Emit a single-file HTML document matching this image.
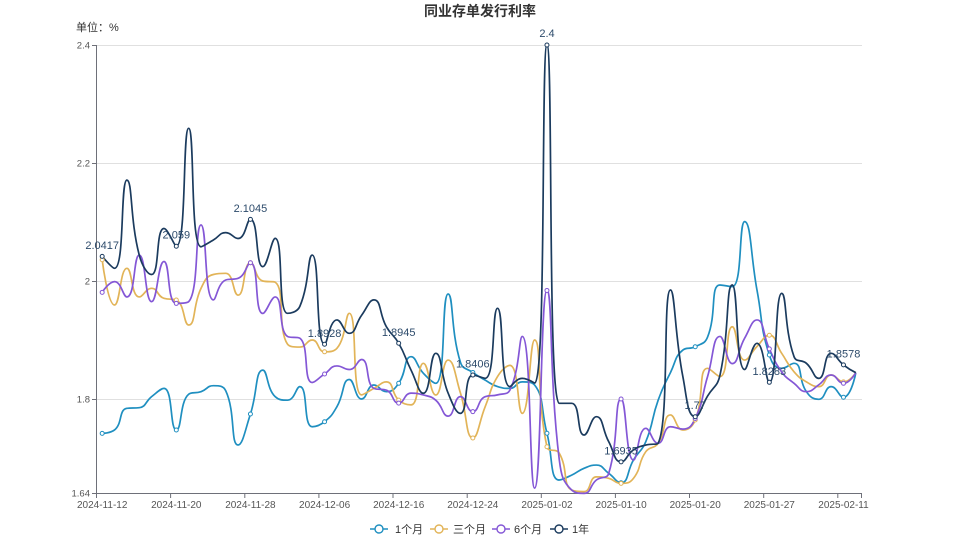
<!DOCTYPE html>
<html><head><meta charset="utf-8">
<style>
html,body{margin:0;padding:0;background:#fff;}
svg{display:block;font-family:"Liberation Sans","Noto Sans CJK SC",sans-serif;}
</style></head><body>
<svg id="c" xmlns="http://www.w3.org/2000/svg" width="959" height="539" viewBox="0 0 959 539">
<rect x="0" y="0" width="959" height="539" fill="#fff"/>
<text x="480" y="16" text-anchor="middle" font-size="14" font-weight="bold" fill="#333">同业存单发行利率</text>
<text x="76" y="31" font-size="11" fill="#333">单位：%</text>
<g stroke="#e0e0e0" stroke-width="1">
<line x1="96" x2="862" y1="45.5" y2="45.5"/>
<line x1="96" x2="862" y1="163.5" y2="163.5"/>
<line x1="96" x2="862" y1="281.5" y2="281.5"/>
<line x1="96" x2="862" y1="399.5" y2="399.5"/>
</g>
<g stroke="#6e7079" stroke-width="1">
<line x1="96.5" x2="96.5" y1="45" y2="493.5"/>
<line x1="96" x2="862" y1="493.5" y2="493.5"/>
<line x1="92" x2="96" y1="45.5" y2="45.5"/>
<line x1="92" x2="96" y1="163.5" y2="163.5"/>
<line x1="92" x2="96" y1="281.5" y2="281.5"/>
<line x1="92" x2="96" y1="399.5" y2="399.5"/>
<line x1="92" x2="96" y1="493.5" y2="493.5"/>
<line x1="96.5" x2="96.5" y1="493" y2="498"/>
<line x1="170.6" x2="170.6" y1="493" y2="498"/>
<line x1="244.8" x2="244.8" y1="493" y2="498"/>
<line x1="318.9" x2="318.9" y1="493" y2="498"/>
<line x1="393.0" x2="393.0" y1="493" y2="498"/>
<line x1="467.2" x2="467.2" y1="493" y2="498"/>
<line x1="541.3" x2="541.3" y1="493" y2="498"/>
<line x1="615.4" x2="615.4" y1="493" y2="498"/>
<line x1="689.5" x2="689.5" y1="493" y2="498"/>
<line x1="763.7" x2="763.7" y1="493" y2="498"/>
<line x1="837.8" x2="837.8" y1="493" y2="498"/>
<line x1="861.5" x2="861.5" y1="493" y2="498"/>
</g>
<g font-size="9.5" fill="#555" text-anchor="end">
<text x="90" y="48.5">2.4</text>
<text x="90" y="166.5">2.2</text>
<text x="90" y="284.5">2</text>
<text x="90" y="402.5">1.8</text>
<text x="90" y="496.5">1.64</text>
</g>
<g font-size="10" fill="#555" text-anchor="middle">
<text x="102.2" y="508">2024-11-12</text>
<text x="176.3" y="508">2024-11-20</text>
<text x="250.4" y="508">2024-11-28</text>
<text x="324.6" y="508">2024-12-06</text>
<text x="398.7" y="508">2024-12-16</text>
<text x="472.8" y="508">2024-12-24</text>
<text x="547.0" y="508">2025-01-02</text>
<text x="621.1" y="508">2025-01-10</text>
<text x="695.2" y="508">2025-01-20</text>
<text x="769.3" y="508">2025-01-27</text>
<text x="843.5" y="508">2025-02-11</text>
</g>
<g id="series"></g>
<g id="marks"></g>
<g font-size="11" fill="#2d4b6b" text-anchor="middle">
<text x="102.2" y="249">2.0417</text>
<text x="176.3" y="238.7">2.059</text>
<text x="250.4" y="211.8">2.1045</text>
<text x="324.6" y="336.8">1.8928</text>
<text x="398.7" y="335.8">1.8945</text>
<text x="472.8" y="367.5">1.8406</text>
<text x="547.0" y="37">2.4</text>
<text x="621.1" y="454.3">1.6935</text>
<text x="695.2" y="409.2">1.77</text>
<text x="769.3" y="374.8">1.8283</text>
<text x="843.5" y="357.4">1.8578</text>
</g>
<g font-size="11" fill="#333">
<line x1="370" x2="388" y1="529" y2="529" stroke="#1f8fc0" stroke-width="1.6"/>
<circle cx="379" cy="529" r="4" fill="#fff" stroke="#1f8fc0" stroke-width="1.4"/>
<text x="395" y="533">1个月</text>
<line x1="430" x2="448" y1="529" y2="529" stroke="#e2b458" stroke-width="1.6"/>
<circle cx="439" cy="529" r="4" fill="#fff" stroke="#e2b458" stroke-width="1.4"/>
<text x="453" y="533">三个月</text>
<line x1="492" x2="510" y1="529" y2="529" stroke="#8457d6" stroke-width="1.6"/>
<circle cx="501" cy="529" r="4" fill="#fff" stroke="#8457d6" stroke-width="1.4"/>
<text x="514" y="533">6个月</text>
<line x1="550" x2="568" y1="529" y2="529" stroke="#1b3b5e" stroke-width="1.6"/>
<circle cx="559" cy="529" r="4" fill="#fff" stroke="#1b3b5e" stroke-width="1.4"/>
<text x="572" y="533">1年</text>
</g>
</svg>
<script>
(function(){
var X0=96, BW=766/62;
function px(i){return X0+BW*(i+0.5);}
function py(v){return 45+(2.4-v)*590;}
var data={
m1:[1.7418,1.7475,1.7842,1.7853,1.804,1.818,1.7475,1.808,1.8124,1.8226,1.814,1.722,1.7746,1.849,1.804,1.798,1.821,1.753,1.7615,1.787,1.833,1.80,1.8237,1.8124,1.8266,1.8717,1.8435,1.8266,1.978,1.862,1.845,1.832,1.821,1.818,1.829,1.8237,1.742,1.6627,1.671,1.6825,1.688,1.674,1.658,1.6966,1.7277,1.798,1.845,1.883,1.8886,1.905,1.9932,1.9904,2.1006,1.9847,1.8746,1.852,1.8605,1.8124,1.7995,1.821,1.803,1.8446],
m3:[2.036,1.9593,2.0215,1.973,1.9876,1.9706,1.9678,1.9254,1.9876,2.011,2.013,1.976,2.031,2.0,1.998,1.893,1.888,1.9,1.88,1.886,1.9452,1.807,1.818,1.829,1.798,1.79,1.8605,1.8068,1.866,1.81,1.734,1.787,1.838,1.857,1.7757,1.9,1.719,1.708,1.6457,1.643,1.668,1.6655,1.657,1.6655,1.7107,1.725,1.773,1.7475,1.7644,1.852,1.838,1.9225,1.866,1.889,1.908,1.8774,1.846,1.829,1.821,1.8407,1.829,1.8446],
m6:[1.9808,1.9989,1.973,2.044,1.965,2.033,1.962,1.965,2.095,1.968,2.0017,2.0045,2.031,1.945,1.973,1.906,1.903,1.828,1.8424,1.856,1.85,1.867,1.818,1.815,1.793,1.81,1.8068,1.798,1.771,1.804,1.7785,1.804,1.807,1.815,1.906,1.649,1.984,1.6966,1.6457,1.64,1.6627,1.674,1.8,1.6966,1.7503,1.725,1.753,1.749,1.767,1.838,1.906,1.86,1.903,1.934,1.885,1.846,1.8266,1.8124,1.824,1.8407,1.8266,1.8446],
y1:[2.0417,2.0215,2.171,2.044,2.011,2.089,2.059,2.2588,2.058,2.0695,2.082,2.072,2.1045,2.0243,2.0723,1.9452,1.957,2.044,1.8928,1.934,1.9113,1.942,1.968,1.9226,1.8945,1.849,1.8097,1.8774,1.81,1.7757,1.8406,1.835,1.9537,1.821,1.835,1.827,2.4,1.7927,1.7927,1.739,1.77,1.7277,1.6935,1.7136,1.722,1.725,1.9847,1.838,1.77,1.805,1.84,1.9932,1.85,1.8944,1.8283,1.979,1.8717,1.8605,1.835,1.8774,1.8578,1.8446]
};
var colors={m1:"#1f8fc0",m3:"#e2b458",m6:"#8457d6",y1:"#1b3b5e"};
function smoothPath(pts,smooth){
  var d='M'+pts[0][0].toFixed(2)+' '+pts[0][1].toFixed(2);
  var cpx0=pts[0][0],cpy0=pts[0][1],prevX=pts[0][0],prevY=pts[0][1];
  for(var k=1;k<pts.length;k++){
    var x=pts[k][0],y=pts[k][1],cpx1,cpy1,ncx,ncy;
    if(k===pts.length-1){cpx1=x;cpy1=y;ncx=x;ncy=y;}
    else{
      var nextX=pts[k+1][0],nextY=pts[k+1][1];
      var vx=nextX-prevX,vy=nextY-prevY;
      var dx0=x-prevX,dx1=nextX-x,dy0=y-prevY,dy1=nextY-y;
      var lp=Math.sqrt(dx0*dx0+dy0*dy0),ln=Math.sqrt(dx1*dx1+dy1*dy1);
      var r=ln/(ln+lp);
      ncx=x+vx*smooth*r;ncy=y+vy*smooth*r;
      ncx=Math.min(ncx,Math.max(nextX,x));ncy=Math.min(ncy,Math.max(nextY,y));
      ncx=Math.max(ncx,Math.min(nextX,x));ncy=Math.max(ncy,Math.min(nextY,y));
      vx=ncx-x;vy=ncy-y;
      cpx1=x-vx*lp/ln;cpy1=y-vy*lp/ln;
      cpx1=Math.min(cpx1,Math.max(prevX,x));cpy1=Math.min(cpy1,Math.max(prevY,y));
      cpx1=Math.max(cpx1,Math.min(prevX,x));cpy1=Math.max(cpy1,Math.min(prevY,y));
      vx=x-cpx1;vy=y-cpy1;
      ncx=x+vx*ln/lp;ncy=y+vy*ln/lp;
    }
    d+='C'+[cpx0,cpy0,cpx1,cpy1,x,y].map(function(n){return n.toFixed(2);}).join(' ');
    cpx0=ncx;cpy0=ncy;prevX=x;prevY=y;
  }
  return d;
}
var NS="http://www.w3.org/2000/svg";
var g=document.getElementById('series'),gm=document.getElementById('marks');
['m1','m3','m6','y1'].forEach(function(key){
  var arr=data[key],pts=[];
  for(var i=0;i<arr.length;i++)pts.push([px(i),py(arr[i])]);
  var p=document.createElementNS(NS,'path');
  p.setAttribute('d',smoothPath(pts,0.5));
  p.setAttribute('fill','none');
  p.setAttribute('stroke',colors[key]);
  p.setAttribute('stroke-width','1.7');
  p.setAttribute('stroke-linejoin','round');
  g.appendChild(p);
  for(var j=0;j<arr.length;j+=6){
    var c=document.createElementNS(NS,'circle');
    c.setAttribute('cx',pts[j][0].toFixed(2));
    c.setAttribute('cy',pts[j][1].toFixed(2));
    c.setAttribute('r','2');
    c.setAttribute('fill','#fff');
    c.setAttribute('stroke',colors[key]);
    c.setAttribute('stroke-width','1');
    gm.appendChild(c);
  }
});
})();
</script>
</body></html>
